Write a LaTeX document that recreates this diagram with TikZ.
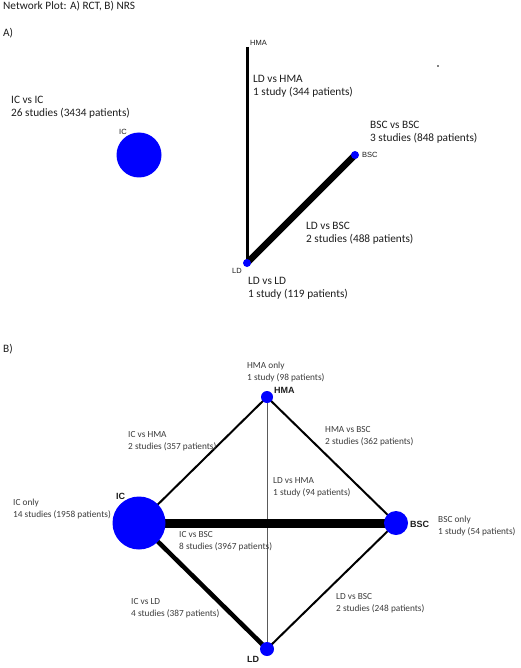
\documentclass[tikz,border=0pt]{standalone}
\usepackage{fontspec}
\setmainfont{Carlito}
\newfontfamily\arialfont{Liberation Sans}
\usetikzlibrary{backgrounds}
\definecolor{nodeblue}{RGB}{0,0,255}
\definecolor{txtA}{RGB}{30,30,30}
\definecolor{txtB}{RGB}{60,60,60}
\definecolor{thinline}{RGB}{90,90,90}
\begin{document}
\begin{tikzpicture}[x=1pt,y=-1pt,
  dot/.style={circle,fill=nodeblue,draw=none,inner sep=0pt,minimum size=#1},
  lblA/.style={anchor=base west,inner sep=0pt,align=left,text=txtA,font=\fontsize{11.3}{13}\selectfont},
  lblB/.style={anchor=base west,inner sep=0pt,align=left,text=txtB,font=\fontsize{9.3}{12}\selectfont},
  smallA/.style={anchor=base west,inner sep=0pt,text=txtA,font=\arialfont\fontsize{7.5}{9}\selectfont},
  nameB/.style={anchor=base west,inner sep=0pt,text=txtA,font=\arialfont\bfseries\fontsize{9}{11}\selectfont},
  link/.style={draw=black,line width=#1}]
\useasboundingbox (0,0) rectangle (520,668);
\begin{scope}[on background layer]
\fill[white] (0,0) rectangle (520,668);
\end{scope}

% titles
\node[lblA] (title) at (3,10) {Network Plot: A) RCT, B) NRS};
\node[lblA] (ta) at (3,37) {A)};
\node[lblA] (tb) at (3,352) {B)};

% ---------- A ----------
\node[dot=45pt] (aIC) at (139,155) {};
\node[smallA] (aICl) at (119,135) {IC};
\coordinate (aHMA) at (247,47);
\node[smallA] (aHMAl) at (250,46) {HMA};
\node[dot=8pt] (aBSC) at (355,155) {};
\node[smallA] (aBSCl) at (362,158) {BSC};
\node[dot=8pt] (aLD) at (247,263) {};
\node[smallA] (aLDl) at (232,273) {LD};
\fill[black] (438,66) circle (0.8pt);

\begin{scope}[on background layer]
\draw[link=3pt] (aHMA) -- (aLD.center);
\draw[link=6.5pt] (aLD.center) -- (aBSC.center);
\end{scope}

\node[lblA] (a1) at (11,117) {IC vs IC\\26 studies (3434 patients)};
\node[lblA] (a2) at (253,96) {LD vs HMA\\1 study (344 patients)};
\node[lblA] (a3) at (370,142) {BSC vs BSC\\3 studies (848 patients)};
\node[lblA] (a4) at (306,242) {LD vs BSC\\2 studies (488 patients)};
\node[lblA] (a5) at (248,297) {LD vs LD\\1 study (119 patients)};

% ---------- B ----------
\node[dot=12pt] (bHMA) at (267,397) {};
\node[dot=53pt] (bIC) at (139,523) {};
\node[dot=24pt] (bBSC) at (396,523) {};
\node[dot=14pt] (bLD) at (267,649) {};
\node[nameB] (bHMAl) at (274,393) {HMA};
\node[nameB] (bICl) at (116,499) {IC};
\node[nameB] (bBSCl) at (410,527) {BSC};
\node[nameB] (bLDl) at (247,662) {LD};

\begin{scope}[on background layer]
\draw[link=2pt] (bIC.center) -- (bHMA.center);
\draw[link=2pt] (bHMA.center) -- (bBSC.center);
\draw[draw=thinline,line width=1pt] (bHMA.center) -- (bLD.center);
\draw[link=9pt] (bIC.center) -- (bBSC.center);
\draw[link=4.5pt] (bIC.center) -- (bLD.center);
\draw[link=2pt] (bLD.center) -- (bBSC.center);
\end{scope}

\node[lblB] (b1) at (247,380) {HMA only\\1 study (98 patients)};
\node[lblB] (b2) at (128,449) {IC vs HMA\\2 studies (357 patients)};
\node[lblB] (b3) at (325,444) {HMA vs BSC\\2 studies (362 patients)};
\node[lblB] (b4) at (273,495) {LD vs HMA\\1 study (94 patients)};
\node[lblB] (b5) at (13,517) {IC only\\14 studies (1958 patients)};
\node[lblB] (b6) at (438,534) {BSC only\\1 study (54 patients)};
\node[lblB] (b7) at (179,549) {IC vs BSC\\8 studies (3967 patients)};
\node[lblB] (b8) at (131,616) {IC vs LD\\4 studies (387 patients)};
\node[lblB] (b9) at (336,611) {LD vs BSC\\2 studies (248 patients)};
\end{tikzpicture}
\end{document}
